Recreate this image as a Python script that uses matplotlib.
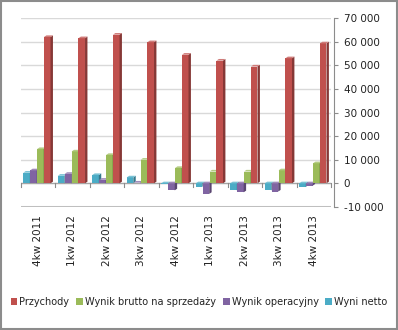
import numpy as np
import matplotlib.pyplot as plt
from matplotlib.patches import Polygon, Rectangle, Patch
from matplotlib.colors import to_rgb

plt.rcParams['font.family'] = 'DejaVu Sans'

quarters = ['4kw 2011', '1kw 2012', '2kw 2012', '3kw 2012', '4kw 2012',
            '1kw 2013', '2kw 2013', '3kw 2013', '4kw 2013']
przychody = [62000, 61500, 63000, 59800, 54500, 52000, 49500, 53000, 59300]
wynik_brutto = [14500, 13500, 12000, 10000, 6500, 5000, 5000, 5500, 8500]
wynik_operacyjny = [5500, 4000, 1500, 300, -3000, -4500, -3800, -3500, -1000]
wynik_netto = [4500, 3200, 3500, 2500, -300, -1500, -3000, -3000, -1500]

series = [
    ('Przychody', przychody, '#C0504D'),
    ('Wynik brutto na sprzedaży', wynik_brutto, '#9BBB59'),
    ('Wynik operacyjny', wynik_operacyjny, '#8064A2'),
    ('Wyni netto', wynik_netto, '#4BACC6'),
]
# drawn left to right inside a cluster: netto, operacyjny, brutto, przychody
draw_order = [3, 2, 1, 0]
offsets = [-0.33, -0.13, 0.07, 0.27]
width = 0.19
depth_x = 0.07
depth_y = 700


def shade(color, f):
    r, g, b = to_rgb(color)
    if f < 1:
        return (r * f, g * f, b * f)
    return (r + (1 - r) * (f - 1), g + (1 - g) * (f - 1), b + (1 - b) * (f - 1))


fig = plt.figure(figsize=(3.98, 3.30), dpi=100)
ax = fig.add_axes([0.052, 0.373, 0.780, 0.572])

x = np.arange(len(quarters))
ax.set_xlim(-0.5, len(quarters) - 0.5)
ax.set_ylim(-10000, 70000)

# back wall gridlines and floor edge
for v in range(-10000, 70001, 10000):
    ax.axhline(v, color='#d9d9d9', lw=1.0, zorder=0)
ax.axhline(-10000, color='#bfbfbf', lw=2.2, zorder=1)
ax.axhline(0, color='#a6a6a6', lw=0.9, zorder=1)

for k, off in zip(draw_order, offsets):
    name, vals, color = series[k]
    for xi, v in zip(x, vals):
        x0 = xi + off - width / 2
        x1 = x0 + width
        top = max(v, 0)
        bot = min(v, 0)
        ax.add_patch(Rectangle((x0, bot), width, abs(v),
                               facecolor=color, edgecolor='none', zorder=3))
        ax.add_patch(Polygon([(x1, bot), (x1 + depth_x, bot + depth_y),
                              (x1 + depth_x, top + depth_y), (x1, top)],
                             closed=True, facecolor=shade(color, 0.7),
                             edgecolor='none', zorder=3))
        ax.add_patch(Polygon([(x0, top), (x1, top),
                              (x1 + depth_x, top + depth_y),
                              (x0 + depth_x, top + depth_y)],
                             closed=True, facecolor=shade(color, 1.25),
                             edgecolor='none', zorder=3))

# category separators hanging from the zero line
for b in np.arange(-0.5, len(quarters), 1.0):
    ax.plot([b, b], [0, -1700], color='#8c8c8c', lw=0.8, zorder=2,
            clip_on=False)

for xi, q in zip(x, quarters):
    ax.text(xi, -13500, q, rotation=90, ha='center', va='top',
            fontsize=7.5, color='#222222')

ticks = list(range(-10000, 70001, 10000))
ax.set_xticks([])
ax.yaxis.tick_right()
ax.set_yticks(ticks)
ax.set_yticklabels([f'{v:,}'.replace(',', ' ') for v in ticks])
ax.tick_params(axis='y', length=3, color='#8c8c8c', pad=4,
               labelsize=7.5, labelcolor='#222222')
for s in ['left', 'top', 'bottom']:
    ax.spines[s].set_visible(False)
ax.spines['right'].set_color('#8c8c8c')
ax.spines['right'].set_position(('data', len(quarters) - 0.42))
ax.patch.set_alpha(0)

handles = [Patch(facecolor=c, label=n) for n, _, c in series]
leg = fig.legend(handles=handles, loc='center', bbox_to_anchor=(0.5, 0.085),
                 ncol=4, frameon=False, fontsize=7.0, handlelength=0.7,
                 handleheight=0.7, handletextpad=0.2, columnspacing=0.7,
                 borderaxespad=0)
for t in leg.get_texts():
    t.set_color('#222222')

fig.add_artist(Rectangle((0.002, 0.003), 0.995, 0.993, transform=fig.transFigure,
                         fill=False, edgecolor='#8c8c8c', lw=1.5))

fig.savefig('out.png', dpi=100)
